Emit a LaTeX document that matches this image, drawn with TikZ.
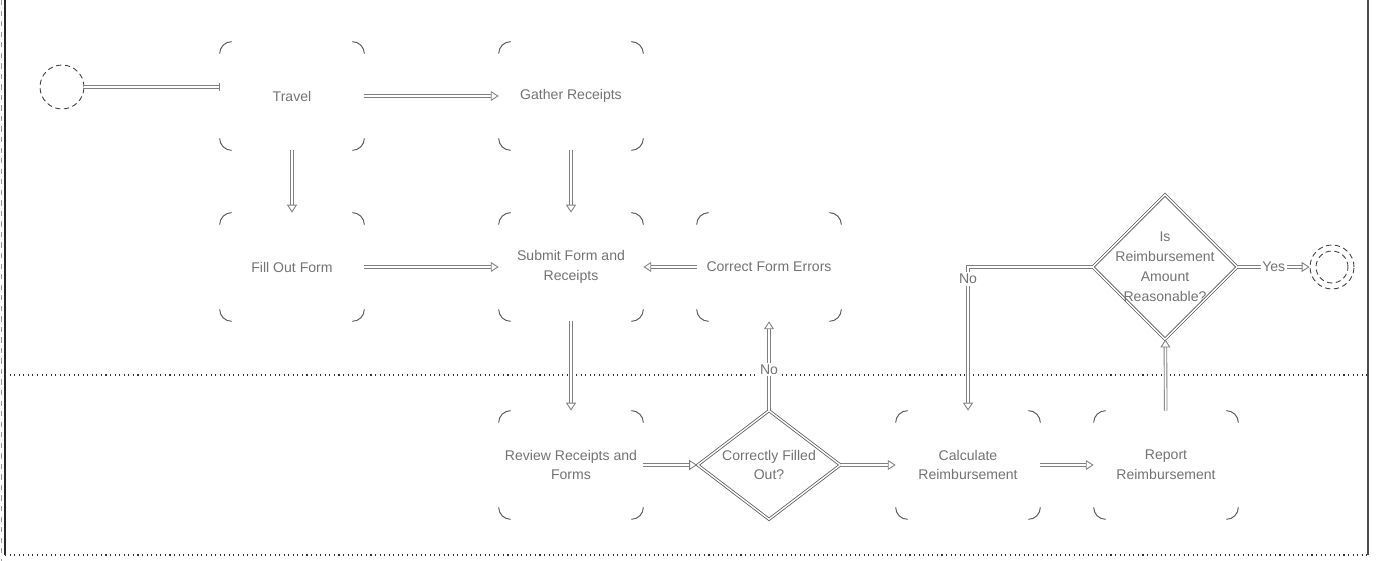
\documentclass[tikz,border=0pt]{standalone}
\usepackage{fontspec}
\setmainfont{Liberation Sans}
\usetikzlibrary{arrows.meta,shapes.geometric}
\tikzset{
  box/.style={rectangle,minimum width=2.88cm,minimum height=2.16cm,inner sep=2pt,align=center,text=black!55,font=\fontsize{8}{11.3}\selectfont},
  decision/.style={diamond,draw=black!65,double=white,double distance=0.8pt,line width=0.45pt,inner sep=0pt,align=center,text=black!55,font=\fontsize{8}{11.3}\selectfont},
  dtext/.style={align=center,text=black!55,font=\fontsize{8}{11.3}\selectfont},
  cornerline/.style={draw=black!65,line width=0.55pt},
  conn/.style={draw=black!50,double=white,double distance=1pt,line width=0.5pt,-{Triangle[open,length=4.5pt,width=5.7pt]}},
  lbl/.style={fill=white,inner sep=1pt,text=black!55,font=\fontsize{8}{10}\selectfont},
  lane/.style={draw=black!80,line width=0.6pt,dotted},
}
\newcommand{\boxcorners}[1]{%
  \draw[cornerline] ([yshift=-0.24cm]#1.north west) arc[start angle=180,end angle=90,radius=0.24cm];
  \draw[cornerline] ([xshift=-0.24cm]#1.north east) arc[start angle=90,end angle=0,radius=0.24cm];
  \draw[cornerline] ([yshift=0.24cm]#1.south east) arc[start angle=0,end angle=-90,radius=0.24cm];
  \draw[cornerline] ([xshift=0.24cm]#1.south west) arc[start angle=270,end angle=180,radius=0.24cm];
}
\begin{document}
\begin{tikzpicture}[x=0.02cm,y=0.02cm]
\useasboundingbox (0,0) rectangle (1377,561);
% lanes
\draw[draw=black!40,dashed,line width=0.3pt] (1.5,561) -- (1.5,0);
\draw[draw=black!85,line width=1.2pt] (5,561) -- (5,6);
\draw[draw=black!70,line width=0.6pt] (1368,561) -- (1368,6);
\draw[lane] (5,186) -- (1368,186);
\draw[lane] (5,6) -- (1368,6);
% nodes
\node[circle,draw=black!75,densely dashed,line width=0.5pt,minimum size=0.88cm,inner sep=0pt] (start) at (62,474) {};
\node[box] (travel) at (292,465) {Travel};
\node[box] (gather) at (571,465) {Gather Receipts};
\node[box] (fill) at (292,294) {Fill Out Form};
\node[box] (submit) at (571,294) {Submit Form and\\Receipts};
\node[box] (correct) at (769,294) {Correct Form Errors};
\node[box] (review) at (571,96) {Review Receipts and\\Forms};
\node[decision,minimum width=2.86cm,minimum height=2.18cm,label={[dtext]center:Correctly Filled\\Out?}] (check) at (769,96) {};
\node[box] (calc) at (968,96) {Calculate\\Reimbursement};
\node[box] (report) at (1166,96) {Report\\Reimbursement};
\node[decision,minimum width=2.9cm,minimum height=2.9cm,label={[dtext]center:Is\\Reimbursement\\Amount\\Reasonable?}] (reason) at (1165,294) {};
\node[circle,draw=black!75,densely dashed,line width=0.5pt,minimum size=0.88cm,inner sep=0pt] (finish) at (1332,294) {};
\node[circle,draw=black!75,densely dashed,line width=0.5pt,minimum size=0.64cm,inner sep=0pt] (finishin) at (1332,294) {};
\foreach \n in {travel,gather,fill,submit,correct,review,calc,report} {\boxcorners{\n}}
% connectors
\draw[conn,-{Bar[width=5pt]}] (start.east) -- (start.east -| travel.west);
\draw[conn] (travel) -- (gather);
\draw[conn] (travel) -- (fill);
\draw[conn] (gather) -- (submit);
\draw[conn] (fill) -- (submit);
\draw[conn] (correct) -- (submit);
\draw[conn] (submit) -- (review);
\draw[conn] (review) -- (check);
\draw[conn] (check) -- node[lbl,pos=0.46] {No} (correct);
\draw[conn] (check) -- (calc);
\draw[conn] (calc) -- (report);
\draw[conn] (report) -- (reason);
\draw[conn] (reason.west) -| node[lbl,pos=0.542] {No} (calc.north);
\draw[conn] (reason.east) -- node[lbl] {Yes} (finish.west);
\end{tikzpicture}
\end{document}
